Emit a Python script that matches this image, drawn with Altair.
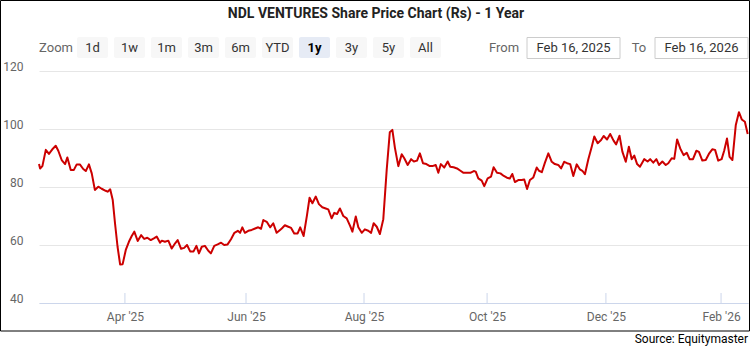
import json
import altair as alt
import pandas as pd

# ---- data (trading-session index on an ordinal time axis, price in Rs) ----
session = [
    0.0, 0.4, 1.2, 2.4, 3.5, 4.7, 5.9, 6.8, 8.0, 9.2, 10.0, 11.2, 12.3, 13.3, 14.4, 15.6, 16.5, 17.6, 18.6, 19.7,
    20.9, 22.1, 23.5, 24.2, 25.1, 26.0, 26.8, 27.7, 28.6, 29.5, 30.6, 31.7, 32.7, 33.6, 34.8, 36.0, 37.1, 38.2, 39.4, 40.5,
    41.5, 42.7,
    43.3, 44.4, 45.6, 46.8, 48.0, 48.9, 50.1, 51.2, 52.2, 53.3, 54.5, 55.5, 56.4, 57.4, 58.5, 59.7, 60.6, 61.8, 63.0, 64.2,
    65.3, 66.5, 67.7, 68.9, 70.1, 70.9, 71.7, 72.6, 73.8, 75.0, 76.2, 77.3, 78.3, 79.1, 80.3, 81.5, 82.6, 83.8, 85.0,
    85.6, 86.7, 87.9, 88.9, 90.0, 91.2, 92.1, 93.3, 94.5, 95.4, 96.4, 97.6, 98.7, 99.9, 101.1, 102.0, 103.2, 104.1, 105.1, 106.1,
    107.3, 108.5, 109.7, 110.5, 111.7, 112.6, 113.8, 114.9, 116.1, 117.1, 118.0, 119.1, 120.2, 121.4, 122.6, 123.7, 124.6, 125.5,
    126.7, 127.9, 128.8, 130.0, 131.2, 132.2, 133.3, 134.3, 135.4, 136.6, 137.8, 138.7, 139.9, 140.8, 141.7, 142.9, 144.1, 145.0,
    146.2, 147.4, 148.6, 149.7, 150.9, 152.1, 153.3, 154.0, 154.9, 156.1, 157.0, 158.2, 159.4, 160.3, 161.5, 162.7, 163.9, 165.0,
    166.0, 166.9,
    167.8, 169.0, 170.2, 171.1, 172.1, 173.1, 174.3, 175.5, 176.3, 177.3, 178.4, 179.6, 180.8, 181.9, 183.1, 184.1, 185.2, 186.2,
    187.3, 188.4, 189.6, 190.7, 191.6, 192.5, 193.7, 194.9, 195.8, 197.0, 198.2, 199.1, 200.3, 201.4, 202.6, 203.5, 204.7, 205.7,
    206.9, 208.0, 209.0, 209.9, 210.9, 211.9,
    213.4, 214.6, 215.5, 216.6, 217.7, 218.6, 219.8, 221.0, 221.9, 223.1, 224.0, 225.0, 226.1, 227.3, 228.4, 229.4, 230.6, 231.8,
    232.7, 233.9, 235.1, 236.2, 237.4, 238.4, 239.5, 240.7, 241.6, 242.6, 243.5, 244.5, 245.7, 246.8, 247.8, 248.9, 249.9,
]
price = [
    87.9, 86.4, 87.2, 92.8, 91.4, 93.0, 94.2, 92.5, 89.3, 87.9, 90.2, 85.9, 85.9, 87.8, 87.8, 86.2, 85.5, 87.8, 84.7, 79.0,
    80.1, 79.4, 78.7, 78.4, 79.2, 75.5, 67.5, 59.4, 53.3, 53.4, 58.3, 61.1, 63.1, 64.6, 61.4, 63.4, 62.1, 62.5, 61.7, 62.3,
    62.9, 60.8,
    61.5, 61.1, 61.5, 58.8, 60.6, 61.7, 58.7, 59.0, 60.0, 57.8, 57.8, 59.7, 57.1, 59.4, 59.7, 58.0, 57.1, 59.7, 60.2, 60.8,
    60.0, 60.2, 62.0, 64.2, 64.9, 64.2, 66.1, 64.2, 64.9, 65.2, 65.7, 66.1, 65.6, 68.6, 68.0, 66.1, 67.5, 64.2, 65.2,
    65.7, 66.8, 66.3, 65.9, 64.0, 64.0, 66.1, 63.1, 70.3, 76.3, 74.4, 76.7, 74.1, 73.0, 72.6, 72.3, 69.2, 71.1, 70.7, 72.6,
    70.0, 69.2, 66.6, 64.6, 69.8, 66.1, 64.2, 65.4, 64.9, 64.2, 67.5, 66.3, 63.8, 68.9, 85.9, 98.9, 99.7, 93.5,
    87.2, 91.3, 89.9, 87.6, 89.6, 88.8, 89.1, 91.6, 88.2, 87.9, 87.2, 87.2, 87.6, 84.9, 87.9, 86.7, 88.8, 87.0,
    86.8, 86.4, 85.6, 84.9, 84.9, 84.9, 85.5, 85.3, 83.0, 82.2, 80.3, 83.0, 83.6, 86.8, 84.9, 84.7, 83.8, 83.2,
    82.9, 84.5,
    81.7, 82.4, 82.4, 82.6, 79.3, 82.4, 83.3, 86.7, 85.6, 85.1, 88.4, 91.6, 88.7, 87.9, 87.6, 86.4, 88.7, 88.2,
    87.9, 83.8, 87.8, 86.1, 85.6, 84.4, 89.6, 93.9, 97.4, 95.1, 96.2, 97.6, 96.4, 98.3, 96.0, 94.7, 97.7, 92.2,
    88.7, 93.9, 89.6, 90.8, 87.9, 87.0,
    89.6, 88.8, 89.6, 88.4, 89.6, 87.6, 88.8, 87.6, 88.2, 89.9, 89.7, 96.4, 93.3, 91.0, 91.8, 89.6, 89.6, 92.5,
    92.1, 89.1, 89.3, 91.4, 93.0, 92.8, 89.1, 89.6, 92.5, 96.7, 90.4, 89.3, 101.4, 105.8, 103.3, 102.5, 98.3,
]
tick_pos = [30.3, 73.0, 114.6, 158.0, 199.9, 240.5]
tick_labels = ["Apr '25", "Jun '25", "Aug '25", "Oct '25", "Dec '25", "Feb '26"]
y_ticks = [40, 60, 80, 100, 120]
zoom_buttons = ["1d", "1w", "1m", "3m", "6m", "YTD", "1y", "3y", "5y", "All"]
selected_button = "1y"
title_text = "NDL VENTURES Share Price Chart (Rs) - 1 Year"
from_date = "Feb 16, 2025"
to_date = "Feb 16, 2026"
source_text = "Source: Equitymaster"

df = pd.DataFrame({"session": session, "price": price})
ticks_df = pd.DataFrame({"pos": tick_pos, "label": tick_labels})

# ---- layout ----
W, H = 709, 232
OX, OY = 39, 71  # plot origin inside the 752x352 canvas
FONT = "Roboto"

label_expr = "''"
for p, l in reversed(list(zip(tick_pos, tick_labels))):
    label_expr = f"abs(datum.value - {p}) < 0.5 ? {json.dumps(l)} : ({label_expr})"

xscale = alt.Scale(domain=[0, 250], nice=False, zero=False)
yscale = alt.Scale(domain=[40, 120], nice=False, zero=False)

line = alt.Chart(df).mark_line(color="#cc0000", strokeWidth=2, strokeJoin="round").encode(
    x=alt.X("session:Q", scale=xscale, title=None,
            axis=alt.Axis(values=tick_pos, labelExpr=label_expr, grid=False, ticks=False,
                          domainColor="#ccd6eb", labelPadding=8, labelBaseline="top",
                          labelFlush=False, labelOverlap=False)),
    y=alt.Y("price:Q", scale=yscale, title=None,
            axis=alt.Axis(values=y_ticks, grid=True, gridColor="#e6e6e6", domain=False, ticks=False,
                          labelAlign="right", labelPadding=16, labelBaseline="alphabetic",
                          labelOffset=-1)),
)

tick_rules = alt.Chart(ticks_df).mark_rule(color="#ccd6eb", strokeWidth=1).encode(
    x=alt.X("pos:Q", scale=xscale), y=alt.value(H - 10), y2=alt.value(H)
)

dummy = pd.DataFrame({"k": [0]})


def rect(x1, x2, y1, y2, **kw):
    return alt.Chart(dummy).mark_rect(**kw).encode(
        x=alt.value(x1 - OX), x2=alt.value(x2 - OX), y=alt.value(y1 - OY), y2=alt.value(y2 - OY)
    )


def text(s, x, y, **kw):
    return alt.Chart(dummy).mark_text(text=s, font=FONT, **kw).encode(
        x=alt.value(x - OX), y=alt.value(y - OY)
    )


layers = []
layers.append(rect(0.5, 749.5, 0.5, 331, fillOpacity=0, stroke="#000000", strokeWidth=1))
layers.append(text(title_text, 376, 18, fontSize=14, fontWeight="bold", color="#222222", align="center",
                   baseline="alphabetic"))
layers.append(text("Zoom", 56, 48, fontSize=13, color="#666666", align="center", baseline="middle"))
for i, b in enumerate(zoom_buttons):
    left = 77 + i * 37
    sel = b == selected_button
    layers.append(rect(left, left + 31, 37, 58, fill="#e6ebf5" if sel else "#f7f7f7", cornerRadius=2))
    layers.append(text(b, left + 15.5, 48, fontSize=13, color="#000000" if sel else "#333333",
                       fontWeight="bold" if sel else "normal", align="center", baseline="middle"))
layers.append(text("From", 504, 48, fontSize=13, color="#666666", align="center", baseline="middle"))
layers.append(rect(527, 620, 37.5, 58.5, fill="#ffffff", stroke="#cccccc", strokeWidth=1))
layers.append(text(from_date, 573.5, 48, fontSize=13, color="#333333", align="center", baseline="middle"))
layers.append(text("To", 639, 48, fontSize=13, color="#666666", align="center", baseline="middle"))
layers.append(rect(655, 748, 37.5, 58.5, fill="#ffffff", stroke="#cccccc", strokeWidth=1))
layers.append(text(to_date, 701.5, 48, fontSize=13, color="#333333", align="center", baseline="middle"))
layers.append(text(source_text, 748, 339, fontSize=12, color="#000000", align="right", baseline="middle"))
layers.append(tick_rules)
layers.append(line)

chart = alt.layer(*layers).properties(
    width=W, height=H,
    autosize=alt.AutoSizeParams(type="none"),
    padding={"left": OX, "top": OY, "right": 752 - OX - W, "bottom": 352 - OY - H},
    background="#ffffff",
).configure_view(strokeWidth=0).configure_axis(
    labelFont=FONT, labelFontSize=12, labelColor="#666666"
)

chart.save("out.html", embed_options={"renderer": "svg", "actions": False})
